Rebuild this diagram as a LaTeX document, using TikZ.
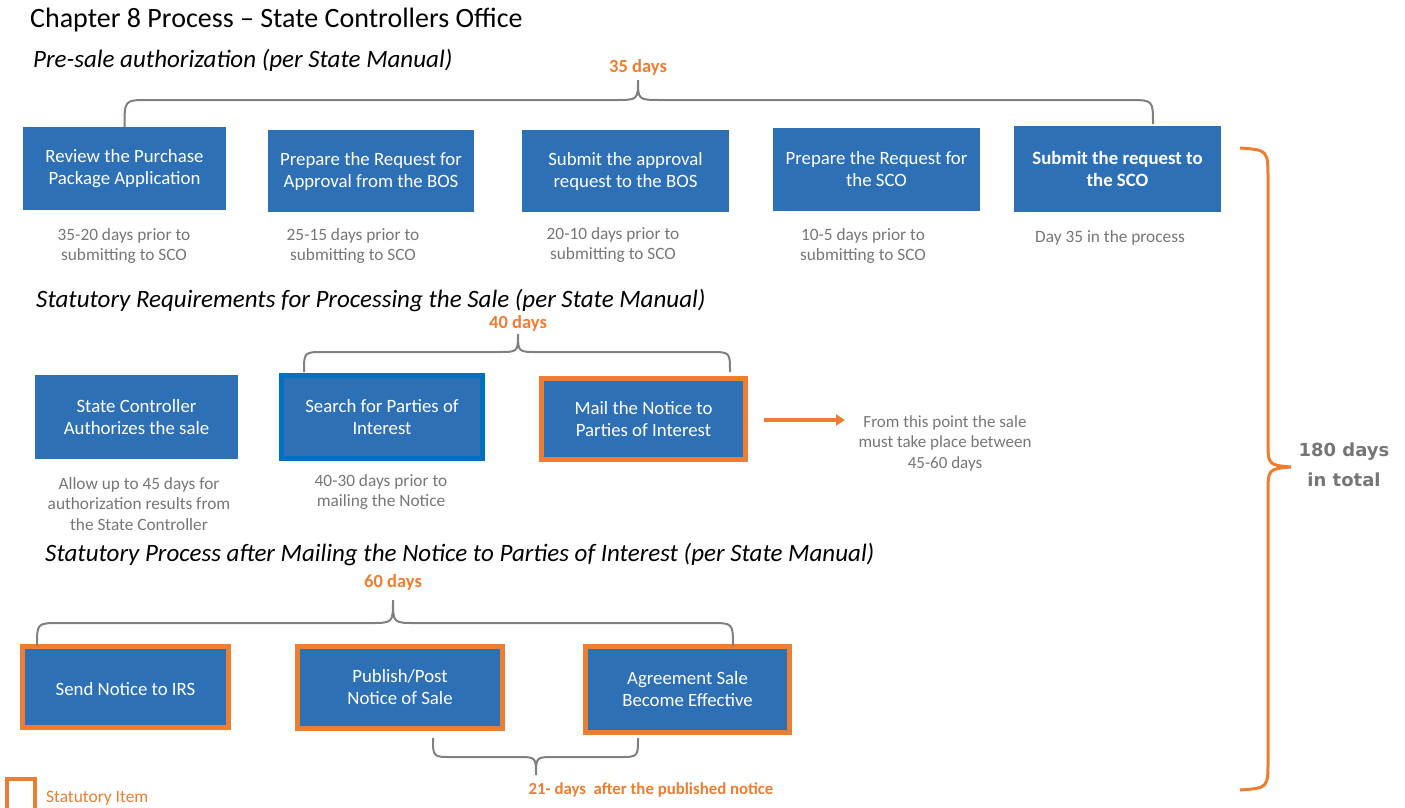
\documentclass[tikz,border=0pt]{standalone}
\usepackage{fontspec}
\setmainfont{Carlito}
\newfontfamily\verd{DejaVu Sans}
\usetikzlibrary{arrows.meta}
\definecolor{boxblue}{RGB}{46,112,182}
\definecolor{orng}{RGB}{237,125,49}
\definecolor{txtgray}{RGB}{118,118,118}
\definecolor{bracegray}{RGB}{128,128,128}
\definecolor{brdblue}{RGB}{0,112,192}
\begin{document}
\begin{tikzpicture}[x=1pt,y=-1pt,
  box/.style={fill=boxblue, text=white, align=center, inner sep=0pt,
    font=\fontsize{18.8}{22}\selectfont, execute at begin node={\rule{0pt}{18pt}}},
  statbox/.style={box, draw=orng, line width=5pt},
  bluebox/.style={box, draw=brdblue, line width=5pt},
  caption/.style={text=txtgray, align=center, inner sep=0pt, yshift=-2pt,
    font=\fontsize{17.3}{20.5}\selectfont},
  subtitle/.style={anchor=west, inner sep=0pt, yshift=-2pt, font=\fontsize{25}{28}\selectfont\itshape},
  days/.style={text=orng, inner sep=0pt, yshift=-1pt, font=\fontsize{18.5}{21}\selectfont\bfseries},
  gbrace/.style={draw=bracegray, line width=2pt},
  obrace/.style={draw=orng, line width=3pt},
  arr/.style={draw=orng, line width=3.5pt, -{Triangle[length=9pt,width=11pt]}}
]
\useasboundingbox (0,0) rectangle (1405,807);

% title
\node[anchor=west, inner sep=0pt, yshift=-2pt, font=\fontsize{28}{32}\selectfont] (title) at (30,18) {Chapter 8 Process -- State Controllers Office};

% section 1
\node[subtitle] (sub1) at (33,58) {Pre-sale authorization (per State Manual)};
\node[days] (d35) at (638,66) {35 days};

\node[box, minimum width=203pt, minimum height=83pt] (b11) at (124.5,168.5) {Review the Purchase\\Package Application};
\node[box, minimum width=206pt, minimum height=82pt] (b12) at (371,171) {Prepare the Request for\\Approval from the BOS};
\node[box, minimum width=207pt, minimum height=82pt] (b13) at (625.5,171) {Submit the approval\\request to the BOS};
\node[box, minimum width=207pt, minimum height=83pt] (b14) at (876.5,169.5) {Prepare the Request for\\the SCO};
\node[box, minimum width=207pt, minimum height=86pt, font=\fontsize{18.8}{22}\selectfont\bfseries] (b15) at (1117.5,169) {Submit the request to\\the SCO};

\node[caption] (c11) at (124,244) {35-20 days prior to\\submitting to SCO};
\node[caption] (c12) at (353,244) {25-15 days prior to\\submitting to SCO};
\node[caption] (c13) at (613,243) {20-10 days prior to\\submitting to SCO};
\node[caption] (c14) at (863,244) {10-5 days prior to\\submitting to SCO};
\node[caption] (c15) at (1110,236) {Day 35 in the process};

\draw[gbrace] (b11.north) .. controls (124.5,100) .. (148,100) -- (614,100)
  .. controls (638,100) .. (638,80) .. controls (638,100) .. (662,100) -- (1129,100)
  .. controls (1153,100) .. (1153,124);

% section 2
\node[subtitle] (sub2) at (36,299) {Statutory Requirements for Processing the Sale (per State Manual)};
\node[days] (d40) at (518,322) {40 days};

\node[box, minimum width=203pt, minimum height=84pt] (b21) at (136.5,417) {State Controller\\Authorizes the sale};
\node[bluebox, minimum width=201pt, minimum height=83pt] (b22) at (382,417) {Search for Parties of\\Interest};
\node[statbox, minimum width=204pt, minimum height=81pt] (b23) at (643.5,419) {Mail the Notice to\\Parties of Interest};

\node[caption] (c21) at (139,502) {Allow up to 45 days for\\authorization results from\\the State Controller};
\node[caption] (c22) at (381,490) {40-30 days prior to\\mailing the Notice};
\node[caption, font=\fontsize{17}{20.5}\selectfont] (note) at (945,441) {From this point the sale\\must take place between\\45-60 days};

\coordinate (arrEnd) at (845,420);
\draw[arr] ([xshift=16pt]b23.east |- 0,420) -- (arrEnd);

\draw[gbrace] (304,372) .. controls (304,352) .. (324,352) -- (498,352)
  .. controls (518,352) .. (518,334) .. controls (518,352) .. (538,352) -- (710,352)
  .. controls (730,352) .. (730,372);

% section 3
\node[subtitle] (sub3) at (45,552) {Statutory Process after Mailing the Notice to Parties of Interest (per State Manual)};
\node[days] (d60) at (393,581) {60 days};

\node[statbox, minimum width=206pt, minimum height=81pt] (b31) at (125.5,687) {Send Notice to IRS};
\node[statbox, minimum width=205pt, minimum height=82pt] (b32) at (400,687.5) {Publish/Post\\Notice of Sale};
\node[statbox, minimum width=204pt, minimum height=86pt] (b33) at (687.5,689.5) {Agreement Sale\\Become Effective};

\draw[gbrace] (37,646) .. controls (37,623) .. (60,623) -- (370,623)
  .. controls (393,623) .. (393,600) .. controls (393,623) .. (416,623) -- (710,623)
  .. controls (733,623) .. (733,646);

\draw[gbrace] (433,738) .. controls (433,757) .. (452,757) -- (517,757)
  .. controls (536,757) .. (536,775) .. controls (536,757) .. (555,757) -- (619,757)
  .. controls (638,757) .. (638,738);
\node[days, font=\fontsize{16.8}{20}\selectfont\bfseries] (d21) at (651,789) {21- days\ \ after the published notice};

% legend
\draw[draw=orng, line width=4pt] (7,830) -- (7,779) -- (35,779) -- (35,830);
\node[anchor=west, inner sep=0pt, yshift=-1pt, text=orng, font=\fontsize{17.4}{20}\selectfont] (leg) at (46,797) {Statutory Item};

% total brace
\draw[obrace] (1240,148) .. controls (1268,150) .. (1268,180) -- (1268,440)
  .. controls (1268,465) .. (1291,467) .. controls (1268,469) .. (1268,494) -- (1268,760)
  .. controls (1268,788) .. (1240,790);
\node[text=txtgray, align=center, inner sep=0pt, font=\verd\fontsize{18}{30}\selectfont\bfseries] (total) at (1344,465) {180 days\\in total};
\end{tikzpicture}
\end{document}
